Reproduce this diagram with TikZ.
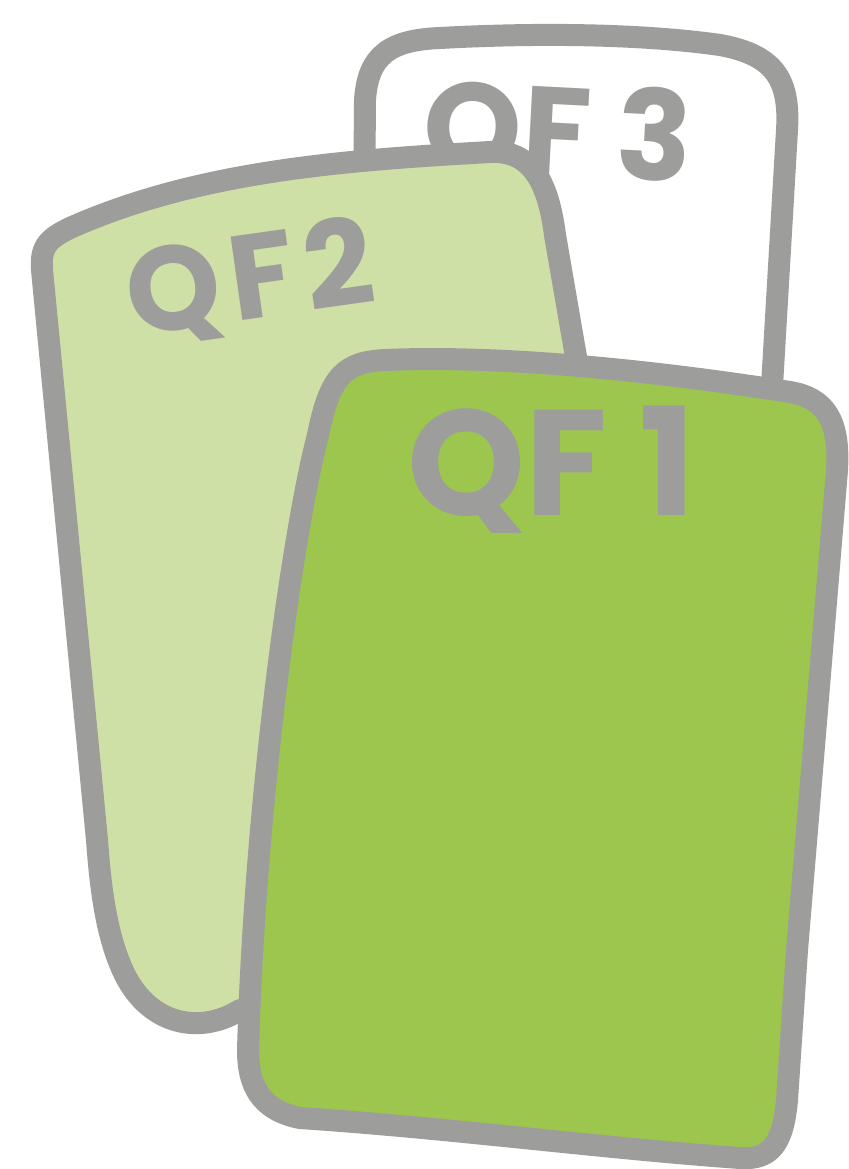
\documentclass[tikz,border=0pt]{standalone}
\usepackage{fontspec}
\setmainfont{Poppins}
\definecolor{edge}{RGB}{157,157,155}
\definecolor{pale}{RGB}{207,224,166}
\definecolor{leaf}{RGB}{157,198,79}
\tikzset{
  cardline/.style={draw=edge, line width=22pt, line join=round, line cap=round},
  cardtext/.style={text=edge, inner sep=0pt, anchor=center},
}
\begin{document}
\begin{tikzpicture}[x=1pt,y=-1pt]
\useasboundingbox (0,0) rectangle (848,1169);
\fill[white] (0,0) rectangle (848,1169);
% card 3 (white, back)
\fill[white] (364,220) -- (365,100) .. controls (368,55) and (390,40) .. (440,38)
  .. controls (550,32) and (650,35) .. (720,45)
  .. controls (775,55) and (790,80) .. (787,130) -- (770,420) -- (770,600) -- (364,600) -- cycle;
\draw[cardline] (364,220) -- (365,100) .. controls (368,55) and (390,40) .. (440,38)
  .. controls (550,32) and (650,35) .. (720,45)
  .. controls (775,55) and (790,80) .. (787,130) -- (770,420);
\node[cardtext, font=\fontsize{125}{125}\selectfont\bfseries, rotate=-3] (qf3) at (558,136) {QF 3};
% card 2 (pale green, middle)
\fill[pale] (580,360) -- (500,700) -- (270,1000) -- (235,1012)
  .. controls (200,1035) and (150,1025) .. (125,975)
  .. controls (105,935) and (100,880) .. (97,840) -- (42,270)
  .. controls (40,245) and (50,238) .. (70,228)
  .. controls (200,170) and (350,160) .. (490,152)
  .. controls (530,150) and (548,180) .. (555,235) -- cycle;
\draw[cardline] (240,1010)
  .. controls (200,1035) and (150,1025) .. (125,975)
  .. controls (105,935) and (100,880) .. (97,840) -- (42,270)
  .. controls (40,245) and (50,238) .. (70,228)
  .. controls (200,170) and (350,160) .. (490,152)
  .. controls (530,150) and (548,180) .. (555,235) -- (580,380);
\node[cardtext, font=\fontsize{120}{120}\selectfont\bfseries\addfontfeatures{LetterSpace=8}, rotate=8] (qf2) at (250,282) {QF2};
% card 1 (green, front)
\filldraw[cardline, fill=leaf] (318,435) .. controls (330,375) and (345,362) .. (385,360)
  .. controls (500,355) and (650,370) .. (790,392)
  .. controls (825,398) and (840,420) .. (837,470)
  -- (797,950) -- (787,1100)
  .. controls (783,1145) and (770,1160) .. (740,1158)
  .. controls (600,1148) and (450,1128) .. (300,1118)
  .. controls (260,1110) and (248,1085) .. (248,1050)
  .. controls (255,800) and (293,530) .. (318,435) -- cycle;
\node[cardtext, font=\fontsize{150}{150}\selectfont\bfseries] (qf1) at (552,470) {QF 1};
\end{tikzpicture}
\end{document}
